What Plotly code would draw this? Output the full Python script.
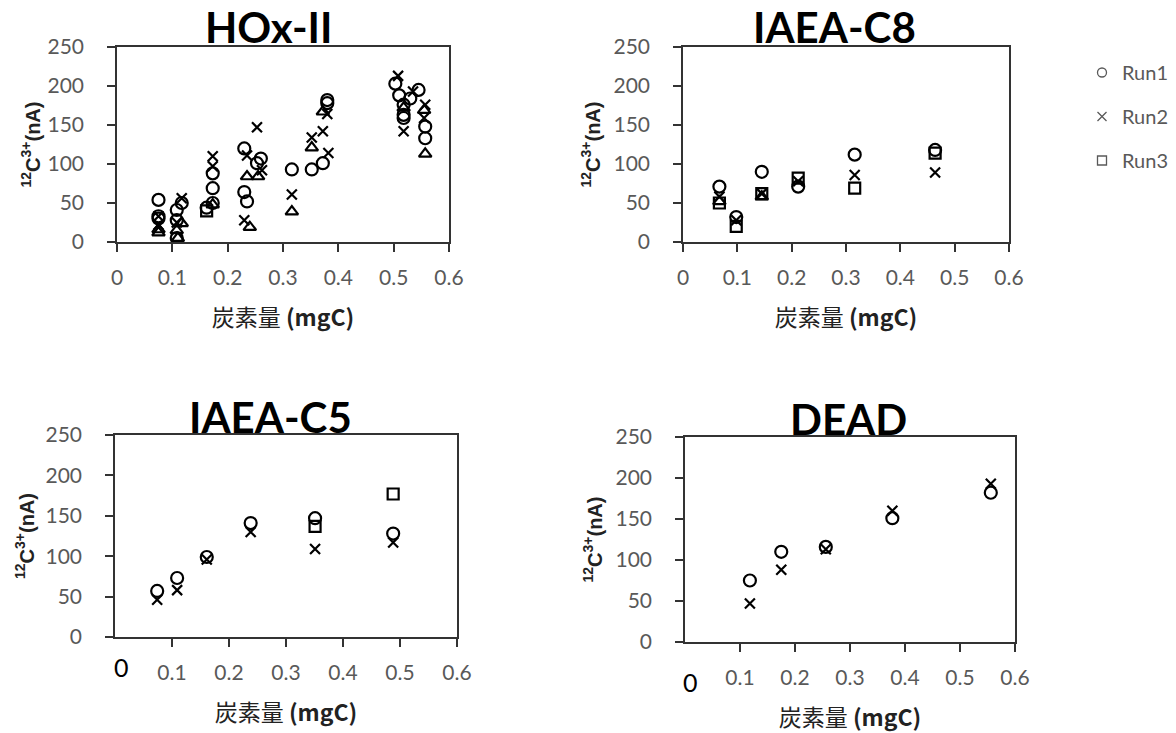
import plotly.graph_objects as go
from plotly.subplots import make_subplots

# ---------------- data ----------------
panels = ["HOx-II", "IAEA-C8", "IAEA-C5", "DEAD"]

# HOx-II
hox_run1_x = [0.075, 0.075, 0.075, 0.117, 0.108, 0.108, 0.108, 0.162, 0.173, 0.173, 0.173,
              0.230, 0.230, 0.235, 0.260, 0.253, 0.316, 0.352, 0.380, 0.380, 0.372,
              0.503, 0.510, 0.518, 0.518, 0.518, 0.530, 0.545, 0.557, 0.557]
hox_run1_y = [54, 33, 30, 50, 41, 28, 5, 44, 88, 69, 50,
              120, 64, 52, 107, 101, 93, 93, 182, 178, 101,
              203, 188, 176, 163, 159, 184, 195, 148, 133]
hox_run2_x = [0.075, 0.075, 0.117, 0.108, 0.173, 0.173, 0.235, 0.230, 0.253, 0.262,
              0.316, 0.352, 0.380, 0.372, 0.382, 0.508, 0.518, 0.535, 0.557, 0.555]
hox_run2_y = [33, 22, 56, 25, 110, 97, 111, 28, 147, 92,
              61, 134, 164, 142, 114, 213, 142, 193, 176, 159]
hox_run3_x = [0.162]
hox_run3_y = [40]
hox_run4_x = [0.075, 0.075, 0.117, 0.108, 0.110, 0.173, 0.235, 0.240, 0.255, 0.316,
              0.352, 0.372, 0.518, 0.555, 0.557]
hox_run4_y = [16, 12, 24, 15, 5, 48, 84, 19, 84, 39,
              121, 167, 172, 169, 113]

# IAEA-C8
c8_x = [0.067, 0.098, 0.145, 0.212, 0.316, 0.464]
c8_run1_y = [71, 32, 90, 71, 112, 118]
c8_run2_y = [58, 28, 62, 78, 86, 89]
c8_run3_y = [50, 20, 62, 82, 69, 114]
c8_run4_x = [0.067, 0.145]
c8_run4_y = [52, 58]

# IAEA-C5
c5_x = [0.074, 0.109, 0.161, 0.238, 0.351, 0.488]
c5_run1_y = [57, 73, 99, 141, 147, 128]
c5_run2_y = [46, 58, 96, 130, 109, 117]
c5_run3_x = [0.351, 0.488]
c5_run3_y = [137, 177]

# DEAD
dead_x = [0.118, 0.175, 0.256, 0.377, 0.556]
dead_run1_y = [75, 110, 116, 151, 182]
dead_run2_y = [47, 88, 113, 160, 193]

x_ticks = [0, 0.1, 0.2, 0.3, 0.4, 0.5, 0.6]
y_ticks = [0, 50, 100, 150, 200, 250]
run_names = ["Run1", "Run2", "Run3"]

# ---------------- styles ----------------
sym = {"Run1": "circle-open", "Run2": "x-thin-open", "Run3": "square-open", "Run4": "triangle-up-open"}
msize = {"Run1": 12, "Run2": 10, "Run3": 11, "Run4": 11}
GREY = "#595959"
TICKFONT = dict(family="Lato, Open Sans, sans-serif", size=21, color=GREY)

fig = make_subplots(rows=2, cols=2)

def add(run, xs, ys, r, c):
    fig.add_trace(go.Scatter(
        x=xs, y=ys, mode="markers", name=run, legendgroup=run, showlegend=False,
        marker=dict(symbol=sym[run], size=msize[run], color="black",
                    line=dict(width=2.2, color="black"))), row=r, col=c)

add("Run1", hox_run1_x, hox_run1_y, 1, 1)
add("Run2", hox_run2_x, hox_run2_y, 1, 1)
add("Run3", hox_run3_x, hox_run3_y, 1, 1)
add("Run4", hox_run4_x, hox_run4_y, 1, 1)

add("Run1", c8_x, c8_run1_y, 1, 2)
add("Run2", c8_x, c8_run2_y, 1, 2)
add("Run3", c8_x, c8_run3_y, 1, 2)
add("Run4", c8_run4_x, c8_run4_y, 1, 2)

add("Run1", c5_x, c5_run1_y, 2, 1)
add("Run2", c5_x, c5_run2_y, 2, 1)
add("Run3", c5_run3_x, c5_run3_y, 2, 1)

add("Run1", dead_x, dead_run1_y, 2, 2)
add("Run2", dead_x, dead_run2_y, 2, 2)

# legend-only entries (grey, small)
for i, run in enumerate(run_names):
    fig.add_trace(go.Scatter(
        x=[None], y=[None], mode="markers", name=run, legendgroup=run, showlegend=True,
        marker=dict(symbol=sym[run], size=9, color=GREY, line=dict(width=1.3, color=GREY))),
        row=1, col=1)

W, H = 1176, 733
# pixel boxes: left, right, top, bottom
boxes = [(117, 449, 47, 242), (683, 1009, 47, 242), (115, 457, 435, 637), (685, 1015, 437, 642)]
ytitle_standoff = [2, 8, 6, 8]
show_zero = [True, True, False, False]

for i, (l, r, t, b) in enumerate(boxes):
    xa = "xaxis" if i == 0 else f"xaxis{i+1}"
    ya = "yaxis" if i == 0 else f"yaxis{i+1}"
    xt = x_ticks if show_zero[i] else x_ticks[1:]
    fig.layout[xa].update(
        domain=[l / W, r / W], range=[0, 0.6], tickvals=xt, automargin=False,
        ticks="outside", ticklen=8, tickwidth=1.5, tickcolor="#333",
        showline=True, linecolor="#333", linewidth=1.5, mirror=True,
        showgrid=False, zeroline=False, tickfont=TICKFONT, ticklabelstandoff=8,
        title=dict(text="炭素量 <b>(mgC)</b>", standoff=22,
                   font=dict(family="Noto Sans CJK JP, sans-serif", size=23, color="#222")))
    fig.layout[ya].update(
        domain=[1 - b / H, 1 - t / H], range=[0, 250], tickvals=y_ticks, automargin=False,
        ticks="outside", ticklen=8, tickwidth=1.5, tickcolor="#333",
        showline=True, linecolor="#333", linewidth=1.5, mirror=True,
        showgrid=False, zeroline=False, tickfont=TICKFONT, ticklabelstandoff=19,
        title=dict(text="<b><sup>12</sup>C<sup>3+</sup>(nA)</b>", standoff=ytitle_standoff[i],
                   font=dict(family="Liberation Sans, Arial, sans-serif", size=20, color="#222")))

# panel titles
title_pos = [(269, 27), (834, 27), (270, 417), (848, 419)]
for name, (cx, cy) in zip(panels, title_pos):
    fig.add_annotation(text=f"<b>{name}</b>", x=cx / W, y=1 - cy / H, xref="paper", yref="paper",
                       showarrow=False, xanchor="center", yanchor="middle",
                       font=dict(family="Lato, Liberation Sans, sans-serif", size=42, color="black"))

# enlarged "0" labels on the lower panels
for (zx, zy) in [(121, 667), (690, 682)]:
    fig.add_annotation(text="0", x=zx / W, y=1 - zy / H, xref="paper", yref="paper",
                       showarrow=False, xanchor="center", yanchor="middle",
                       font=dict(family="Lato, sans-serif", size=25, color="black"))

fig.update_layout(
    width=W, height=H, margin=dict(l=0, r=0, t=0, b=0),
    plot_bgcolor="white", paper_bgcolor="white",
    legend=dict(x=1082 / W, y=1 - 53 / H, xanchor="left", yanchor="top",
                font=dict(family="Lato, Open Sans, sans-serif", size=20, color=GREY),
                tracegroupgap=15, bgcolor="rgba(0,0,0,0)", itemwidth=30),
)

fig.write_html("out.html")
